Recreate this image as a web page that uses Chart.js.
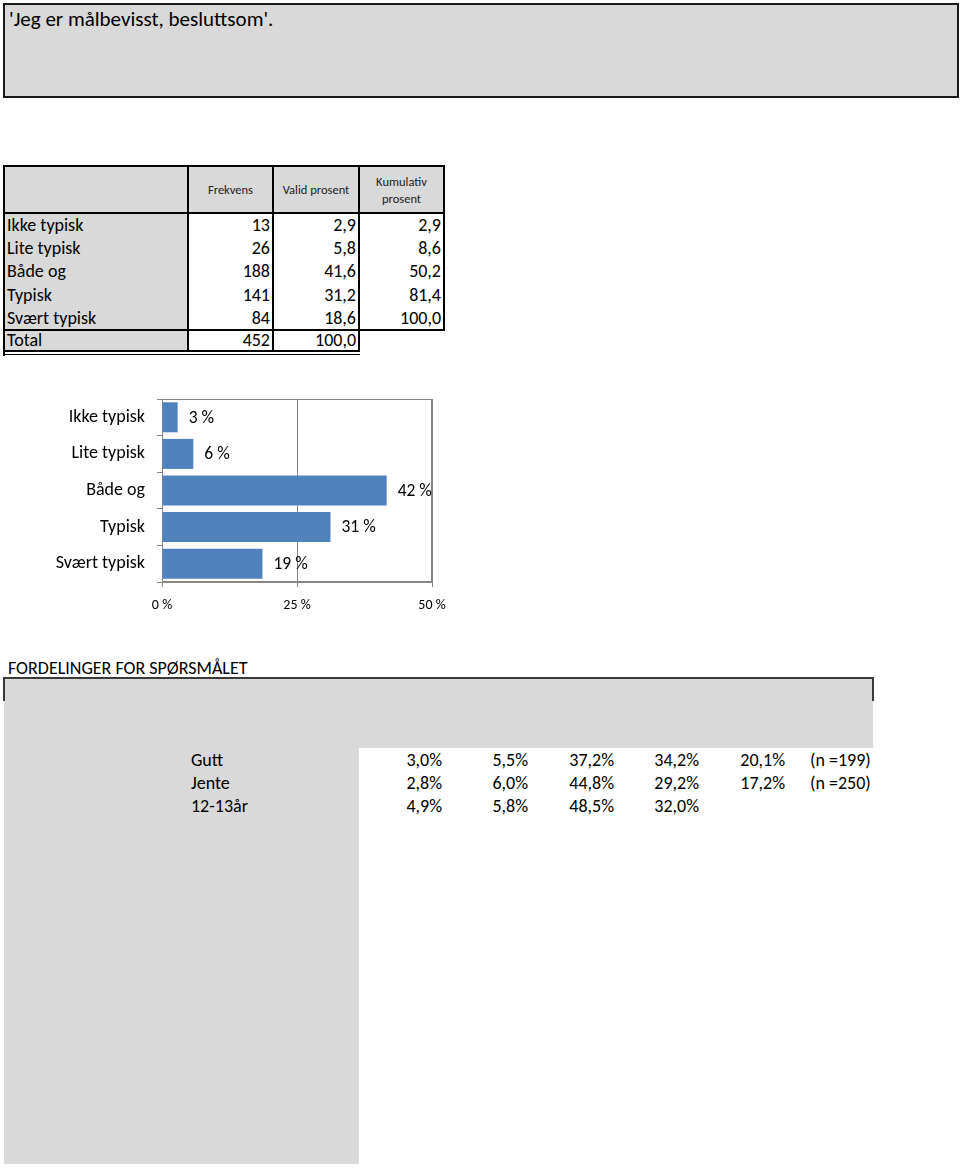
<!DOCTYPE html>
<html>
<head>
<meta charset="utf-8">
<script src="https://cdn.jsdelivr.net/npm/chart.js@4.4.1/dist/chart.umd.min.js"></script>
<style>
  * { box-sizing: border-box; }
  body {
    margin: 0;
    width: 960px;
    height: 1168px;
    position: relative;
    overflow: hidden;
    background: #fff;
    color: #000;
    font-family: Carlito, Calibri, Lato, sans-serif;
  }
  .abs { position: absolute; white-space: nowrap; }
  .title-box {
    left: 3px; top: 3px; width: 956px; height: 95px;
    border: 2px solid #1a1a1a;
    background: #d9d9d9;
    font-size: 21px;
    line-height: 26px;
    padding: 1px 0 0 4px;
  }
  .gray { background: #d9d9d9; }
  .line { position: absolute; background: #000; }
  .cell { position: absolute; font-size: 18px; line-height: 23px; white-space: nowrap; }
  .num { text-align: right; padding-right: 3px; }
  .head { font-size: 12.5px; color: #222; text-align: center; display: flex; align-items: center; justify-content: center; line-height: 17px; }
  #chartBox { position: absolute; left: 0; top: 390px; width: 460px; height: 230px; }
</style>
</head>
<body>

<div class="abs title-box">'Jeg er målbevisst, besluttsom'.</div>

<div id="freqTable"></div>

<div id="chartBox"><canvas id="myChart"></canvas></div>

<div class="abs" style="left:8px; top:656px; font-size:18px; line-height:24px;">FORDELINGER FOR SPØRSMÅLET</div>
<div id="groupTable"></div>

<script>
const categories = ['Ikke typisk', 'Lite typisk', 'Både og', 'Typisk', 'Svært typisk'];
const frekvens = [13, 26, 188, 141, 84];
const validProsent = [2.9, 5.8, 41.6, 31.2, 18.6];
const kumulativProsent = [2.9, 8.6, 50.2, 81.4, 100.0];
const totalFrekvens = 452;
const totalProsent = 100.0;

const xTicks = [0, 25, 50];

const groups = ['Gutt', 'Jente', '12-13år'];
const guttValues = [3.0, 5.5, 37.2, 34.2, 20.1];
const jenteValues = [2.8, 6.0, 44.8, 29.2, 17.2];
const aarValues = [4.9, 5.8, 48.5, 32.0];
const groupN = ['(n =199)', '(n =250)', ''];

const fmt1 = v => v.toFixed(1).replace('.', ',');

// ---------- frequency table ----------
function buildFreqTable() {
  const root = document.getElementById('freqTable');
  let h = '';
  const cols = [4, 188, 273, 359, 444];
  const top = 166, headBottom = 213, rowH = 23.2;
  // backgrounds
  h += `<div class="abs gray" style="left:4px;top:166px;width:440px;height:47px"></div>`;
  h += `<div class="abs gray" style="left:4px;top:213px;width:184px;height:139px"></div>`;
  // header
  const heads = ['Frekvens', 'Valid prosent', 'Kumulativ<br>prosent'];
  heads.forEach((t, i) => {
    h += `<div class="cell head" style="left:${cols[i + 1]}px;top:${top}px;width:${cols[i + 2] - cols[i + 1]}px;height:47px">${t}</div>`;
  });
  // rows
  categories.forEach((c, i) => {
    const y = headBottom + 1 + i * rowH;
    h += `<div class="cell" style="left:7px;top:${y}px">${c}</div>`;
    h += `<div class="cell num" style="left:188px;top:${y}px;width:85px">${frekvens[i]}</div>`;
    h += `<div class="cell num" style="left:273px;top:${y}px;width:86px">${fmt1(validProsent[i])}</div>`;
    h += `<div class="cell num" style="left:359px;top:${y}px;width:85px">${fmt1(kumulativProsent[i])}</div>`;
  });
  const ty = 329;
  h += `<div class="cell" style="left:7px;top:${ty}px">Total</div>`;
  h += `<div class="cell num" style="left:188px;top:${ty}px;width:85px">${totalFrekvens}</div>`;
  h += `<div class="cell num" style="left:273px;top:${ty}px;width:86px">${fmt1(totalProsent)}</div>`;
  // lines
  h += `<div class="line" style="left:4px;top:165px;width:441px;height:2px"></div>`;
  h += `<div class="line" style="left:4px;top:212px;width:441px;height:2px"></div>`;
  h += `<div class="line" style="left:4px;top:329px;width:441px;height:2px"></div>`;
  h += `<div class="line" style="left:3px;top:165px;width:2px;height:191px"></div>`;
  h += `<div class="line" style="left:187px;top:165px;width:2px;height:187px"></div>`;
  h += `<div class="line" style="left:272px;top:165px;width:2px;height:187px"></div>`;
  h += `<div class="line" style="left:358px;top:165px;width:2px;height:187px"></div>`;
  h += `<div class="line" style="left:443px;top:165px;width:2px;height:166px"></div>`;
  h += `<div class="line" style="left:4px;top:350px;width:356px;height:2px"></div>`;
  h += `<div class="line" style="left:4px;top:354px;width:356px;height:1px"></div>`;
  root.innerHTML = h;
}

// ---------- group table ----------
function buildGroupTable() {
  const root = document.getElementById('groupTable');
  let h = '';
  h += `<div class="abs gray" style="left:4px;top:678px;width:869px;height:70px"></div>`;
  h += `<div class="abs gray" style="left:4px;top:748px;width:355px;height:416px"></div>`;
  h += `<div class="line" style="left:3px;top:677px;width:871px;height:2px;background:#3a3a3a"></div>`;
  h += `<div class="line" style="left:3px;top:677px;width:2px;height:24px;background:#3a3a3a"></div>`;
  h += `<div class="line" style="left:872px;top:677px;width:2px;height:24px;background:#3a3a3a"></div>`;
  const rights = [442, 528, 614, 699, 785];
  const rows = [guttValues, jenteValues, aarValues];
  groups.forEach((g, r) => {
    const y = 749 + r * 23.2;
    h += `<div class="cell" style="left:191px;top:${y}px">${g}</div>`;
    rows[r].forEach((v, i) => {
      h += `<div class="cell" style="left:${rights[i] - 80}px;top:${y}px;width:80px;text-align:right">${fmt1(v)}%</div>`;
    });
    if (groupN[r]) h += `<div class="cell" style="left:810px;top:${y}px">${groupN[r]}</div>`;
  });
  root.innerHTML = h;
}

buildFreqTable();
buildGroupTable();

// ---------- chart ----------
const gridGray = '#868686';
const fontFamily = 'Carlito, Calibri, Lato, sans-serif';

const barLabels = {
  id: 'barLabels',
  afterDatasetsDraw(chart) {
    const ctx = chart.ctx;
    const meta = chart.getDatasetMeta(0);
    ctx.save();
    ctx.font = '17.5px ' + fontFamily;
    ctx.fillStyle = '#000';
    ctx.textAlign = 'left';
    ctx.textBaseline = 'middle';
    meta.data.forEach((bar, i) => {
      ctx.fillText(Math.round(validProsent[i]) + ' %', bar.x + 11, bar.y + 1);
    });
    ctx.restore();
  }
};

const plotFrame = {
  id: 'plotFrame',
  beforeDatasetsDraw(chart) {
    const { ctx, chartArea: a } = chart;
    ctx.save();
    ctx.strokeStyle = gridGray;
    ctx.lineWidth = 1;
    ctx.strokeRect(a.left + 0.5, a.top + 0.5, a.width - 1, a.height - 1);
    ctx.restore();
  }
};

const noPad = scale => {
  scale.paddingTop = 0;
  scale.paddingBottom = 0;
  scale.paddingLeft = 0;
  scale.paddingRight = 0;
};

const ctx = document.getElementById('myChart').getContext('2d');
new Chart(ctx, {
  type: 'bar',
  data: {
    labels: categories,
    datasets: [{
      data: validProsent,
      backgroundColor: '#4f81bd',
      borderWidth: 0,
      barPercentage: 0.82,
      categoryPercentage: 1
    }]
  },
  options: {
    indexAxis: 'y',
    responsive: true,
    maintainAspectRatio: false,
    animation: false,
    layout: { padding: { top: 9, right: 28, left: 0, bottom: 0 } },
    plugins: {
      legend: { display: false },
      tooltip: { enabled: false }
    },
    scales: {
      x: {
        min: 0,
        max: 50,
        afterBuildTicks: scale => { scale.ticks = xTicks.map(v => ({ value: v })); },
        afterFit: scale => { scale.height = 38; noPad(scale); },
        ticks: {
          callback: v => v + ' %',
          color: '#000',
          font: { family: fontFamily, size: 14 },
          padding: 10,
          maxRotation: 0
        },
        grid: { color: gridGray, tickLength: 5 },
        border: { color: gridGray }
      },
      y: {
        afterFit: scale => { scale.width = 162; noPad(scale); },
        ticks: {
          color: '#000',
          font: { family: fontFamily, size: 18 },
          padding: 12
        },
        grid: { drawOnChartArea: false, color: gridGray, tickLength: 5, offset: true },
        border: { color: gridGray }
      }
    }
  },
  plugins: [plotFrame, barLabels]
});
</script>
</body>
</html>
